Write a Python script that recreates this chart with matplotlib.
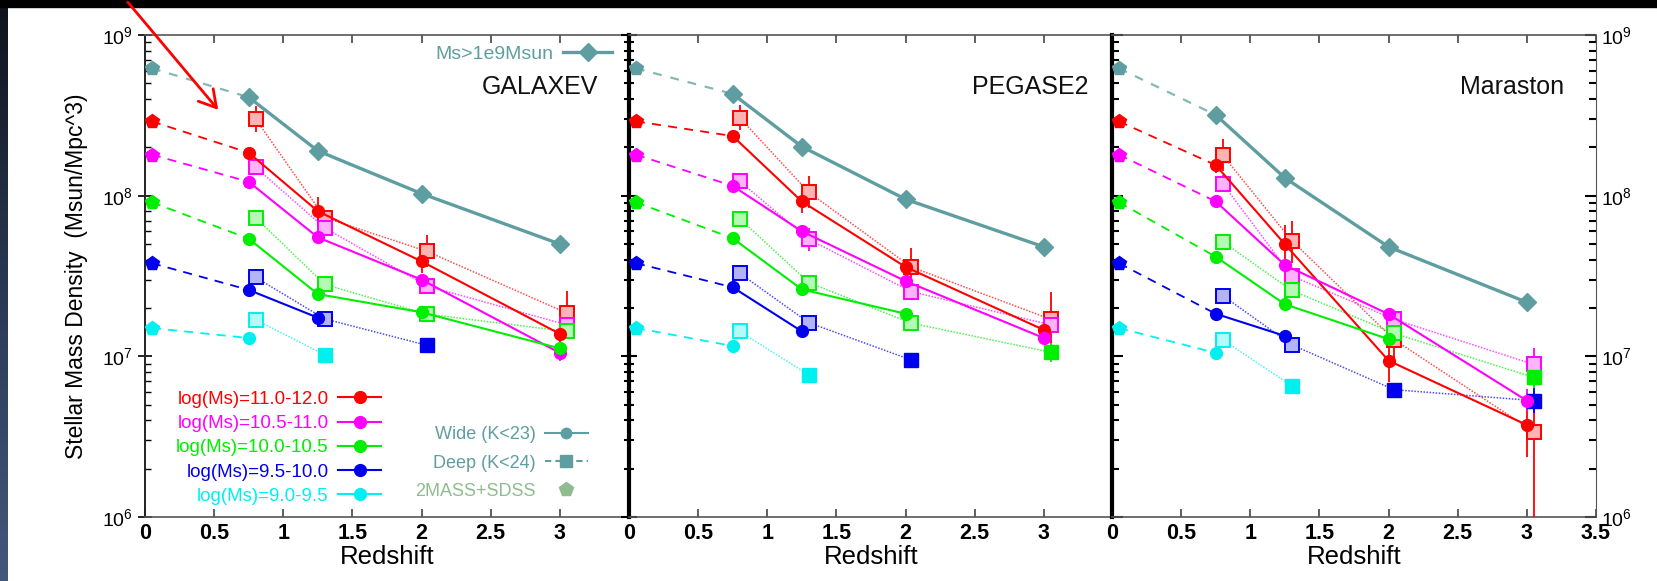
import numpy as np
import matplotlib
matplotlib.use("Agg")
import matplotlib.pyplot as plt
from matplotlib.lines import Line2D
from matplotlib.patches import Rectangle
from matplotlib.ticker import LogLocator, NullFormatter, LogFormatterSciNotation

plt.rcParams['font.family'] = ['Liberation Sans', 'DejaVu Sans']
plt.rcParams['mathtext.fontset'] = 'custom'
plt.rcParams['mathtext.rm'] = 'Liberation Sans'

# ---- data ----
panel_names = ['GALAXEV', 'PEGASE2', 'Maraston']
bin_labels = ['log(Ms)=11.0-12.0', 'log(Ms)=10.5-11.0', 'log(Ms)=10.0-10.5',
              'log(Ms)=9.5-10.0', 'log(Ms)=9.0-9.5']
bin_colors = ['#ff0000', '#ff00ff', '#00ee00', '#0000ee', '#00f0f0']
teal = '#5f9ea0'
sdss_green = '#8fbc8f'

x_ticks = [0, 0.5, 1, 1.5, 2, 2.5, 3, 3.5]
x_ticklabels = ['0', '0.5', '1', '1.5', '2', '2.5', '3', '3.5']

z_local = 0.05
z_wide = [0.75, 1.25, 2.0, 3.0]
z_deep = [0.80, 1.30, 2.04, 3.05]

# local (2MASS+SDSS) values: total, then mass bins
local_total = 6.2e8
local_bins = [2.9e8, 1.8e8, 9.1e7, 3.8e7, 1.5e7]

nan = np.nan

# GALAXEV
galaxev_total = [4.1e8, 1.9e8, 1.03e8, 5.0e7]
galaxev_wide = [[1.85e8, 8.0e7, 3.9e7, 1.38e7],
                [1.22e8, 5.5e7, 3.0e7, 1.05e7],
                [5.4e7, 2.44e7, 1.88e7, 1.12e7],
                [2.59e7, 1.74e7, nan, nan],
                [1.30e7, nan, nan, nan]]
galaxev_deep = [[3.0e8, 7.3e7, 4.5e7, 1.86e7],
                [1.5e8, 6.3e7, 2.74e7, 1.57e7],
                [7.3e7, 2.8e7, 1.83e7, 1.43e7],
                [3.1e7, 1.71e7, 1.17e7, nan],
                [1.69e7, 1.02e7, nan, nan]]
galaxev_wide_err = [[0.03, 0.09, 0.07, 0.05],
                    [0.0, 0.03, 0.02, 0.05],
                    [0.0, 0.02, 0.02, 0.03],
                    [0.0, 0.0, 0.0, 0.0],
                    [0.0, 0.0, 0.0, 0.0]]
galaxev_deep_err = [[0.08, 0.04, 0.10, 0.14],
                    [0.05, 0.03, 0.05, 0.04],
                    [0.03, 0.03, 0.03, 0.03],
                    [0.02, 0.02, 0.0, 0.0],
                    [0.0, 0.0, 0.0, 0.0]]

# PEGASE2
pegase_total = [4.3e8, 2.02e8, 9.5e7, 4.8e7]
pegase_wide = [[2.35e8, 9.2e7, 3.6e7, 1.46e7],
               [1.15e8, 6.0e7, 2.94e7, 1.30e7],
               [5.43e7, 2.61e7, 1.84e7, nan],
               [2.69e7, 1.43e7, nan, nan],
               [1.16e7, nan, nan, nan]]
pegase_deep = [[3.06e8, 1.05e8, 3.6e7, 1.7e7],
               [1.23e8, 5.35e7, 2.53e7, 1.57e7],
               [7.2e7, 2.88e7, 1.61e7, 1.06e7],
               [3.29e7, 1.62e7, 9.5e6, nan],
               [1.43e7, 7.66e6, nan, nan]]
pegase_wide_err = [[0.04, 0.07, 0.05, 0.03],
                   [0.02, 0.03, 0.02, 0.04],
                   [0.0, 0.02, 0.02, 0.0],
                   [0.0, 0.0, 0.0, 0.0],
                   [0.0, 0.0, 0.0, 0.0]]
pegase_deep_err = [[0.08, 0.10, 0.12, 0.17],
                   [0.04, 0.07, 0.05, 0.05],
                   [0.03, 0.04, 0.04, 0.06],
                   [0.02, 0.03, 0.0, 0.0],
                   [0.02, 0.0, 0.0, 0.0]]

# Maraston
maraston_total = [3.18e8, 1.29e8, 4.8e7, 2.17e7]
maraston_wide = [[1.55e8, 4.99e7, 9.4e6, 3.74e6],
                 [9.2e7, 3.7e7, 1.83e7, 5.3e6],
                 [4.17e7, 2.11e7, 1.28e7, nan],
                 [1.84e7, 1.34e7, nan, nan],
                 [1.05e7, nan, nan, nan]]
maraston_deep = [[1.79e8, 5.25e7, 1.27e7, 3.4e6],
                 [1.19e8, 3.16e7, 1.7e7, 8.9e6],
                 [5.17e7, 2.57e7, 1.39e7, 7.4e6],
                 [2.39e7, 1.18e7, 6.2e6, 5.3e6],
                 [1.27e7, 6.55e6, nan, nan]]
maraston_wide_err = [[0.05, 0.12, 0.13, 0.20],
                     [0.02, 0.03, 0.03, 0.07],
                     [0.02, 0.02, 0.02, 0.0],
                     [0.0, 0.0, 0.0, 0.0],
                     [0.0, 0.0, 0.0, 0.0]]
maraston_deep_err = [[0.10, 0.12, 0.15, 0.25],
                     [0.05, 0.05, 0.05, 0.10],
                     [0.04, 0.04, 0.04, 0.07],
                     [0.04, 0.04, 0.04, 0.08],
                     [0.02, 0.02, 0.0, 0.0]]
maraston_red_deep_lowerr = [0.10, 0.14, 0.15, 1.5]   # last point runs off the bottom

panel_totals = [galaxev_total, pegase_total, maraston_total]
panel_wide = [galaxev_wide, pegase_wide, maraston_wide]
panel_deep = [galaxev_deep, pegase_deep, maraston_deep]
panel_wide_err = [galaxev_wide_err, pegase_wide_err, maraston_wide_err]
panel_deep_err = [galaxev_deep_err, pegase_deep_err, maraston_deep_err]


def tint(c, f=0.7):
    rgb = np.array(matplotlib.colors.to_rgb(c))
    return tuple(rgb + (1 - rgb) * f)


def dex_err(vals, lo, hi):
    v = np.array(vals, dtype=float)
    return [v - v * 10 ** (-np.array(lo)), v * 10 ** np.array(hi) - v]


def draw_panel(ax, total, wide, deep, wide_err, deep_err, lower_override=None):
    # all galaxies above 1e9
    ax.plot([z_local, z_wide[0]], [local_total, total[0]], ls=(0, (4, 4)),
            color=teal, lw=1.6, alpha=0.75, zorder=2)
    ax.plot(z_wide, total, '-', color=teal, lw=2.4, marker='D', ms=9, zorder=3)
    ax.plot(z_local, local_total, marker='p', ms=10.5, color=teal, ls='none', zorder=4)

    for k, c in enumerate(bin_colors):
        w = np.array(wide[k], dtype=float)
        d = np.array(deep[k], dtype=float)
        ax.plot([z_local, z_wide[0]], [local_bins[k], w[0]], ls=(0, (5, 4)),
                color=c, lw=1.3, zorder=2)
        ax.plot(z_local, local_bins[k], marker='p', ms=10.5, color=c, ls='none', zorder=4)

        # deep sample
        ax.plot(z_deep, d, ls=(0, (1, 1)), color=c, lw=1.1, alpha=0.7, zorder=2)
        lo = deep_err[k]
        if lower_override is not None and k == 0:
            lo = lower_override
        ax.errorbar(z_deep, d, yerr=dex_err(d, lo, deep_err[k]), fmt='none',
                    ecolor=c, elinewidth=1.3, capsize=0, zorder=3)
        has_wide = ~np.isnan(w)
        zd = np.array(z_deep)
        ax.plot(zd[has_wide], d[has_wide], 's', ms=9.5, mfc=tint(c), mec=c,
                mew=1.4, ls='none', zorder=4)
        ax.plot(zd[~has_wide], d[~has_wide], 's', ms=10.5, color=c, ls='none', zorder=4)

        # wide sample
        ax.errorbar(z_wide, w, yerr=dex_err(w, wide_err[k], wide_err[k]), fmt='none',
                    ecolor=c, elinewidth=1.3, capsize=0, zorder=3)
        ax.plot(z_wide, w, '-', color=c, lw=1.5, marker='o', ms=8.5, zorder=5)


W, H = 1657, 581
fig = plt.figure(figsize=(W / 100, H / 100), dpi=100)

# slide decorations: black band on top, dark strip at left
fig.patches.append(Rectangle((0, 1 - 7 / H), 1, 7 / H, transform=fig.transFigure,
                             color='black', zorder=0))
strip = fig.add_axes([0, 0, 8 / W, 1 - 7 / H])
grad = np.linspace(0, 1, 256)[:, None]
strip.imshow(grad, aspect='auto', cmap=matplotlib.colors.LinearSegmentedColormap.from_list(
    'strip', ['#10141c', '#2a3a55', '#44587c']))
strip.axis('off')

lefts = [145, 629, 1112]
width = 484
top, bottom = 35, 517
axes = []
for i, l in enumerate(lefts):
    ax = fig.add_axes([l / W, 1 - bottom / H, width / W, (bottom - top) / H])
    ax.patch.set_alpha(0)
    axes.append(ax)

name_x = [0.936, 0.950, 0.934]
for i, ax in enumerate(axes):
    draw_panel(ax, panel_totals[i], panel_wide[i], panel_deep[i],
               panel_wide_err[i], panel_deep_err[i],
               maraston_red_deep_lowerr if i == 2 else None)
    ax.set_yscale('log')
    ax.set_ylim(1e6, 1e9)
    ax.set_xlim(0, 3.5)
    ax.set_xticks(x_ticks)
    labels = list(x_ticklabels)
    if i < 2:
        labels[-1] = ''
    ax.set_xticklabels(labels, fontweight='bold', fontsize=15.5)
    ax.tick_params(axis='x', direction='in', length=6, width=1.2, top=True, pad=4,
                   color='#444444')
    ax.yaxis.set_major_locator(LogLocator(base=10, numticks=10))
    ax.yaxis.set_minor_locator(LogLocator(base=10, subs=np.arange(2, 10), numticks=10))
    ax.yaxis.set_minor_formatter(NullFormatter())
    ax.set_xlabel('Redshift', fontsize=18.5, labelpad=1)
    for s in ['top', 'bottom']:
        ax.spines[s].set_color('#555555')
        ax.spines[s].set_linewidth(1.2)
    ax.spines['right'].set_visible(i == 2)
    ax.spines['right'].set_color('#555555')
    ax.text(name_x[i], 0.892, panel_names[i], transform=ax.transAxes,
            ha='right', va='center', fontsize=18, color='#111111')

    if i == 0:
        ax.spines['left'].set_color('#222222')
        ax.spines['left'].set_linewidth(1.4)
        ax.tick_params(axis='y', which='major', direction='inout', length=10, width=1.2,
                       labelsize=14, pad=4)
        ax.tick_params(axis='y', which='minor', direction='in', length=4, width=1.0)
        ax.yaxis.set_major_formatter(LogFormatterSciNotation())
        ax.set_ylabel('Stellar Mass Density  (Msun/Mpc^3)', fontsize=16.5, labelpad=10)
    else:
        ax.spines['left'].set_color('black')
        ax.spines['left'].set_linewidth(3)
        ax.tick_params(axis='y', which='major', direction='inout', length=12, width=1.5,
                       labelleft=False)
        ax.tick_params(axis='y', which='minor', direction='inout', length=7, width=1.5)
    if i == 2:
        ax.tick_params(axis='y', which='both', right=True, labelright=True)
        ax.tick_params(axis='y', which='major', direction='in', length=8, labelsize=14)
        ax.tick_params(axis='y', which='minor', direction='in', length=5)
        ax.yaxis.set_major_formatter(LogFormatterSciNotation())

ax0 = axes[0]
# legend: mass bins
bin_handles = [Line2D([], [], color=c, lw=1.5, marker='o', ms=8.5) for c in bin_colors]
leg1 = ax0.legend(bin_handles, bin_labels, markerfirst=False, frameon=False,
                  loc='upper right', bbox_to_anchor=(0.488, 0.262), fontsize=13.5,
                  labelcolor=bin_colors, handlelength=2.3, handletextpad=0.5,
                  labelspacing=0.38, borderpad=0, borderaxespad=0)
ax0.add_artist(leg1)

# legend: samples
sample_handles = [Line2D([], [], color=teal, lw=1.5, marker='o', ms=7.5),
                  Line2D([], [], color=teal, lw=1.5, ls=(0, (3, 2)), marker='s', ms=8.5),
                  Line2D([], [], color=sdss_green, ls='none', marker='p', ms=10.5)]
leg2 = ax0.legend(sample_handles, ['Wide (K<23)', 'Deep (K<24)', '2MASS+SDSS'],
                  markerfirst=False, frameon=False, loc='upper right',
                  bbox_to_anchor=(0.915, 0.188), fontsize=13,
                  labelcolor=[teal, teal, sdss_green], handlelength=2.4,
                  handletextpad=0.5, labelspacing=0.62, borderpad=0, borderaxespad=0)
ax0.add_artist(leg2)

# legend: total
leg3 = ax0.legend([Line2D([], [], color=teal, lw=2.4, marker='D', ms=9)], ['Ms>1e9Msun'],
                  markerfirst=False, frameon=False, loc='upper right',
                  bbox_to_anchor=(0.965, 0.978), fontsize=14, labelcolor=[teal],
                  handlelength=2.5, handletextpad=0.5, borderpad=0, borderaxespad=0)

# red pointer arrow from the slide
fig.add_artist(matplotlib.patches.FancyArrowPatch(
    (126, H), (220, H - 112), transform=None, arrowstyle='->,head_length=0.6,head_width=0.35',
    mutation_scale=20, color='red', lw=2, zorder=10))

fig.savefig('out.png', dpi=100)
